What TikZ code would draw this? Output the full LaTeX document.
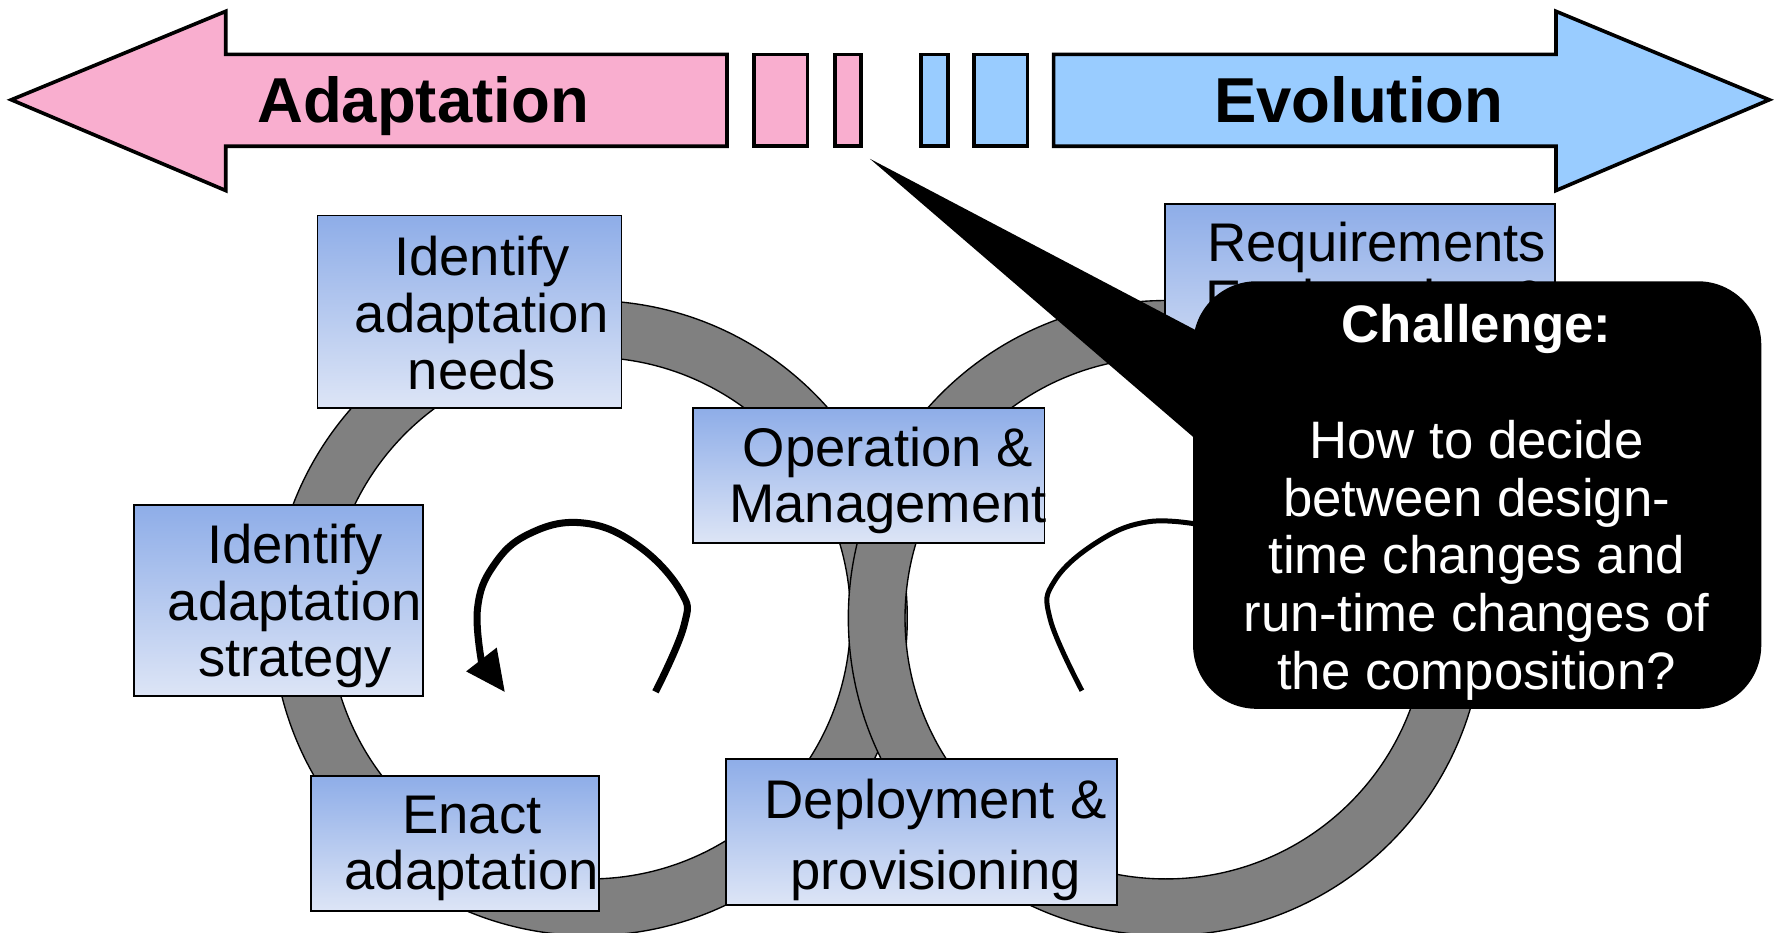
\documentclass[tikz,border=0pt]{standalone}
\usepackage{fontspec}
\setmainfont{Liberation Sans}
\usetikzlibrary{fit,arrows.meta}
\definecolor{pinkA}{RGB}{249,174,207}
\definecolor{blueA}{RGB}{153,204,255}
\definecolor{ringgray}{RGB}{128,128,128}
\definecolor{boxtop}{RGB}{142,173,232}
\definecolor{boxbot}{RGB}{221,229,246}
\begin{document}
\begin{tikzpicture}[x=0.5pt,y=-0.5pt,
  box/.style={draw=black, line width=0.8pt, top color=boxtop, bottom color=boxbot, inner sep=0pt},
  boxtext/.style={align=center, font=\fontsize{24}{25}\selectfont, inner sep=0pt},
  ring/.style={fill=ringgray, draw=black, line width=0.6pt, even odd rule},
  bigarrow/.style={draw=black, line width=1.6pt, line join=miter},
  title/.style={font=\bfseries\fontsize{28}{30}\selectfont, anchor=base, inner sep=0pt},
  loopthick/.style={line width=3.1pt},
  loopthin/.style={line width=2.2pt}
]
\useasboundingbox (0,0) rectangle (1566,822);

% rings
\path[ring] (520,545) circle[radius=280] (520,545) circle[radius=230];
\path[ring] (1028,545) circle[radius=280] (1028,545) circle[radius=230];

% boxes
\node[box, fit={(280,190)(548,360)}] (needs) {};
\node[boxtext] (needsT) at (425,276) {Identify\\adaptation\\needs};

\node[box, fit={(118,445)(373,614)}] (strategy) {};
\node[boxtext] (strategyT) at (260,534.5) {Identify\\adaptation\\strategy};

\node[box, fit={(274,684)(528,803)}] (enact) {};
\node[boxtext] (enactT) at (416,748) {Enact\\adaptation};

\node[box, fit={(611,360)(921,479)}] (oper) {};
\node[boxtext] (operT) at (783,423.5) {Operation \&\\Management};

\node[box, fit={(640,669)(985,798)}] (deploy) {};
\node[boxtext, font=\fontsize{24}{31}\selectfont] (deployT) at (825,740.5) {Deployment \&\\provisioning};

\node[box, fit={(1027,180)(1371,350)}] (req) {};
\node[boxtext] (reqT) at (1214,243.5) {Requirements\\Engineering \&};

% loop curves
\draw[loopthick] plot[smooth, tension=0.7] coordinates {(578,610) (603,552) (600,521) (561,480) (513,461) (466,471) (435,499) (421,537) (425,586)};
\fill (445,610) -- (411,592) -- (438,571) -- cycle;
\draw[loopthin] plot[smooth, tension=0.7] coordinates {(954,609) (926,546) (930,512) (969,477) (1013,460) (1060,463)};

% callout
\coordinate (tip) at (767,140);
\fill[black] (tip) -- (1075,302) -- (1075,405) -- cycle;
\node[fill=black, rounded corners=28pt, inner sep=0pt, fit={(1052,248)(1553,625)}] (callout) {};
\node[align=center, text=white, font=\fontsize{23.25}{25.5}\selectfont, inner sep=0pt] (calloutT) at (1302,443)
  {\textbf{Challenge:}\\[25.5pt]How to decide\\between design-\\time changes and\\run-time changes of\\the composition?};

% top arrows
\draw[bigarrow, fill=pinkA] (10,88) -- (199,10) -- (199,48) -- (641,48) -- (641,129) -- (199,129) -- (199,168) -- cycle;
\draw[bigarrow, fill=pinkA] (665,48) rectangle (712,129);
\draw[bigarrow, fill=pinkA] (736,48) rectangle (759,129);
\draw[bigarrow, fill=blueA] (812,48) rectangle (836,129);
\draw[bigarrow, fill=blueA] (859,48) rectangle (906,129);
\draw[bigarrow, fill=blueA] (929,48) -- (1372,48) -- (1372,10) -- (1560,88) -- (1372,168) -- (1372,129) -- (929,129) -- cycle;
\node[title] (adapt) at (373,108) {Adaptation};
\node[title] (evol) at (1198,108) {Evolution};
\end{tikzpicture}
\end{document}
